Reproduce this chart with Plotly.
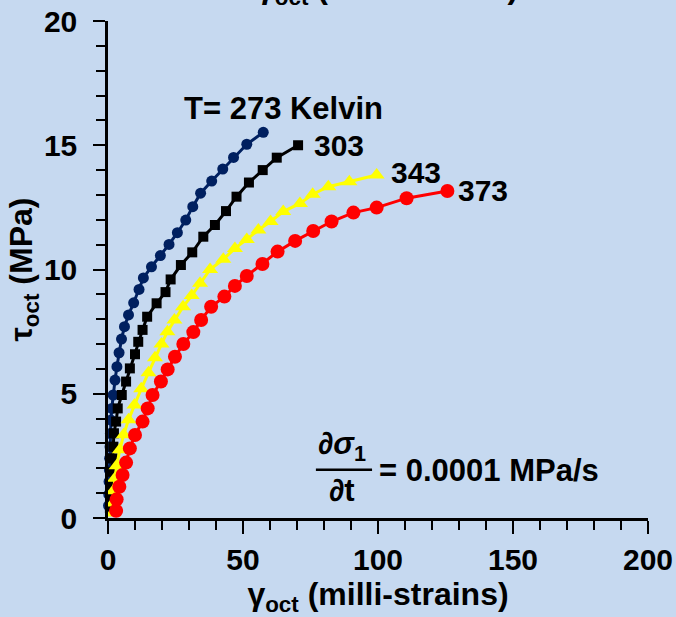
import plotly.graph_objects as go

# ---- data ----
labels = ["T= 273 Kelvin", "303", "343", "373"]

gamma_273 = [0.2, 0.3, 0.4, 0.5, 0.6, 0.75, 0.9, 1.1, 1.4, 1.9, 2.6, 3.3, 4.1, 5.0, 6.1,
             7.6, 9.5, 11.5, 13.1, 16.1, 19.4, 22.6, 25.7, 28.8, 31.4, 34.3, 38.4, 42.5,
             46.5, 51.4, 57.5]
tau_273 = [0.5, 0.95, 1.46, 1.93, 2.4, 2.87, 3.4, 3.94, 4.41, 4.95, 5.55, 6.09, 6.65, 7.2,
           7.7, 8.17, 8.66, 9.2, 9.66, 10.11, 10.56, 11.01, 11.48, 11.99, 12.53, 13.07,
           13.56, 14.04, 14.51, 15.04, 15.52]

gamma_303 = [0.7, 0.9, 1.1, 1.4, 1.7, 2.0, 2.2, 3.0, 3.6, 5.1, 6.7, 8.1, 10.0, 11.2, 12.8,
             14.5, 18.0, 21.3, 23.2, 27.0, 31.2, 35.3, 39.6, 43.7, 47.6, 52.2, 57.3, 62.5,
             70.4]
tau_303 = [0.4, 0.85, 1.33, 1.86, 2.4, 2.87, 3.41, 3.88, 4.41, 4.95, 5.49, 6.02, 6.59, 7.09,
           7.57, 8.1, 8.64, 9.09, 9.6, 10.18, 10.69, 11.32, 11.79, 12.35, 12.93, 13.5, 14.0,
           14.5, 15.0]

gamma_343 = [1.8, 1.9, 2.0, 2.6, 3.2, 4.4, 5.8, 7.6, 9.8, 12.3, 15.0, 17.4, 19.8, 22.0,
             24.6, 27.8, 31.0, 34.1, 37.8, 42.7, 47.0, 51.4, 55.7, 60.2, 64.9, 71.1, 75.8,
             81.6, 89.4, 99.5]
tau_343 = [0.2, 0.6, 1.1, 1.6, 2.1, 2.75, 3.35, 3.95, 4.55, 5.2, 5.85, 6.45, 7.0, 7.5, 7.97,
           8.5, 8.95, 9.45, 10.0, 10.41, 10.85, 11.21, 11.59, 11.93, 12.33, 12.66, 13.03,
           13.33, 13.53, 13.8]

gamma_373 = [3.0, 3.2, 4.2, 5.4, 6.7, 8.1, 10.0, 12.8, 14.7, 16.5, 19.6, 22.1, 24.8, 27.9,
             31.6, 34.5, 38.2, 43.1, 47.0, 51.4, 57.2, 62.8, 69.3, 76.0, 82.8, 90.9, 99.5,
             110.6, 125.7]
tau_373 = [0.29, 0.75, 1.26, 1.73, 2.23, 2.8, 3.34, 3.88, 4.41, 4.95, 5.49, 5.98, 6.49, 7.0,
           7.48, 7.97, 8.5, 8.91, 9.34, 9.74, 10.22, 10.72, 11.15, 11.55, 11.93, 12.29,
           12.49, 12.87, 13.16]

x_ticks = [0, 50, 100, 150, 200]
y_ticks = [0, 5, 10, 15, 20]

# label anchor positions (data units)
label_x = [27.4, 75.6, 104.2, 129.0]
label_y = [16.46, 15.0, 13.92, 13.16]

BG = "#C6D9F0"
FONT = "Liberation Sans, Arial, sans-serif"

fig = go.Figure()

series = [
    (gamma_273, tau_273, "#002060", "circle", 11),
    (gamma_303, tau_303, "#000000", "square", 10),
    (gamma_343, tau_343, "#FFFF00", "triangle-up", 14),
    (gamma_373, tau_373, "#FF0000", "circle", 14),
]
for (gx, ty, col, sym, sz), name in zip(series, labels):
    fig.add_trace(go.Scatter(
        x=gx, y=ty, mode="lines+markers", name=name,
        line=dict(color=col, width=3),
        marker=dict(color=col, symbol=sym, size=sz, line=dict(width=0)),
        cliponaxis=False, showlegend=False,
    ))

for lx, ly, txt, fs in zip(label_x, label_y, labels, [31, 30, 30, 30]):
    fig.add_annotation(x=lx, y=ly, xref="x", yref="y", text="<b>" + txt + "</b>",
                       showarrow=False, xanchor="left", yanchor="middle",
                       font=dict(family=FONT, size=fs, color="black"))

# rate annotation (fraction)
fig.add_annotation(x=0.433, y=0.100, xref="paper", yref="paper",
                   text="<b><i>∂σ</i><sub>1</sub></b>", showarrow=False,
                   xanchor="center", yanchor="bottom",
                   font=dict(family=FONT, size=31, color="black"))
fig.add_annotation(x=0.433, y=0.094, xref="paper", yref="paper",
                   text="<b><i>∂</i>t</b>", showarrow=False,
                   xanchor="center", yanchor="top",
                   font=dict(family=FONT, size=31, color="black"))
fig.add_shape(type="line", xref="paper", yref="paper", x0=0.385, x1=0.489,
              y0=0.097, y1=0.097, line=dict(color="black", width=2.5))
fig.add_annotation(x=0.499, y=0.095, xref="paper", yref="paper",
                   text="<b>= 0.0001 MPa/s</b>", showarrow=False,
                   xanchor="left", yanchor="middle",
                   font=dict(family=FONT, size=31, color="black"))

# cut-off duplicate title at the very top
fig.add_annotation(x=0.517, y=1.018, xref="paper", yref="paper",
                   text="<b>γ<sub>oct</sub> (milli-strains)</b>", showarrow=False,
                   xanchor="center", yanchor="bottom",
                   font=dict(family=FONT, size=32, color="black"))

axis_common = dict(
    showgrid=False, zeroline=False, showline=True, linecolor="black", linewidth=2.5,
    ticks="outside", tickcolor="black", tickwidth=2, automargin=False,
    tickfont=dict(family=FONT, size=30, color="black"),
    title_font=dict(family=FONT, size=32, color="black"),
    mirror=False,
)

fig.update_xaxes(range=[0, 200], tickvals=x_ticks, ticktext=[f"<b>{v}</b>" for v in x_ticks],
                 ticklen=13,
                 minor=dict(dtick=10, ticks="outside", ticklen=9, tickwidth=2, tickcolor="black"),
                 title=dict(text="<b>γ<sub>oct</sub> (milli-strains)</b>", standoff=21),
                 **axis_common)
fig.update_yaxes(range=[0, 20], tickvals=y_ticks, ticktext=[f"<b>{v}</b>" for v in y_ticks],
                 ticklen=12, ticklabelstandoff=10,
                 minor=dict(dtick=1, ticks="outside", ticklen=9, tickwidth=2, tickcolor="black"),
                 title=dict(text="<b>τ<sub>oct</sub> (MPa)</b>", standoff=2),
                 **axis_common)

fig.update_layout(
    width=676, height=617,
    margin=dict(l=108, r=28, t=21, b=99),
    paper_bgcolor=BG, plot_bgcolor=BG,
    font=dict(family=FONT, color="black"),
)

fig.write_html("out.html", config={"displayModeBar": False},
               post_script="document.body.style.margin='0';document.body.style.overflow='hidden';")
